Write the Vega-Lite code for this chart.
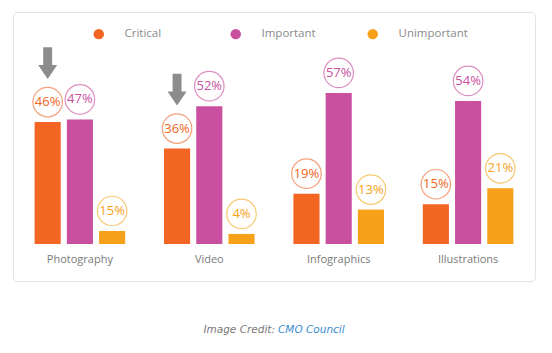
{
  "$schema": "https://vega.github.io/schema/vega-lite/v6.json",
  "width": 522,
  "height": 269,
  "autosize": {"type": "none"},
  "padding": {"left": 13, "top": 12, "right": 17, "bottom": 72},
  "background": "white",
  "config": {
    "view": {"stroke": "#e3e3e3", "cornerRadius": 4, "strokeWidth": 1},
    "font": "Open Sans"
  },
  "data": {
    "values": [
      {"category": "Photography", "series": "Critical", "value": 46, "label": "46%"},
      {"category": "Photography", "series": "Important", "value": 47, "label": "47%"},
      {"category": "Photography", "series": "Unimportant", "value": 4.9, "label": "15%"},
      {"category": "Video", "series": "Critical", "value": 36, "label": "36%"},
      {"category": "Video", "series": "Important", "value": 52, "label": "52%"},
      {"category": "Video", "series": "Unimportant", "value": 3.8, "label": "4%"},
      {"category": "Infographics", "series": "Critical", "value": 19, "label": "19%"},
      {"category": "Infographics", "series": "Important", "value": 57, "label": "57%"},
      {"category": "Infographics", "series": "Unimportant", "value": 13, "label": "13%"},
      {"category": "Illustrations", "series": "Critical", "value": 15, "label": "15%"},
      {"category": "Illustrations", "series": "Important", "value": 54, "label": "54%"},
      {"category": "Illustrations", "series": "Unimportant", "value": 21, "label": "21%"}
    ]
  },
  "layer": [
    {
      "encoding": {
        "x": {
          "field": "category",
          "type": "nominal",
          "sort": ["Photography", "Video", "Infographics", "Illustrations"],
          "scale": {"paddingInner": 0.3, "paddingOuter": 0.167},
          "axis": {
            "title": null,
            "domain": false,
            "ticks": false,
            "labelAngle": 0,
            "labelPadding": 9,
            "offset": -37,
            "labelColor": "#7a7a7a",
            "labelFontSize": 11,
            "labelFont": "Open Sans"
          }
        },
        "xOffset": {
          "field": "series",
          "type": "nominal",
          "sort": ["Critical", "Important", "Unimportant"],
          "scale": {"paddingInner": 0.19, "paddingOuter": 0}
        },
        "y": {
          "field": "value",
          "type": "quantitative",
          "scale": {"domain": [-13.96, 87.55], "nice": false, "zero": false},
          "axis": null
        }
      },
      "layer": [
        {
          "mark": {"type": "bar"},
          "encoding": {
            "color": {
              "field": "series",
              "type": "nominal",
              "scale": {
                "domain": ["Critical", "Important", "Unimportant"],
                "range": ["#f26522", "#c9509f", "#f7a11a"]
              },
              "legend": {
                "orient": "none",
                "legendX": 80,
                "legendY": 16,
                "direction": "horizontal",
                "columns": 3,
                "title": null,
                "symbolType": "circle",
                "symbolSize": 110,
                "symbolStrokeWidth": 0,
                "labelOffset": 20,
                "columnPadding": 36,
                "gridAlign": "all",
                "labelFont": "Open Sans",
                "labelFontSize": 11.5,
                "labelColor": "#8a8a8a"
              }
            }
          }
        },
        {
          "mark": {"type": "point", "shape": "circle", "filled": false, "size": 870, "strokeWidth": 1.2, "yOffset": -20, "opacity": 1},
          "encoding": {
            "stroke": {
              "field": "series",
              "type": "nominal",
              "scale": {
                "domain": ["Critical", "Important", "Unimportant"],
                "range": ["#f5a07a", "#dc8ec3", "#f8c871"]
              },
              "legend": null
            }
          }
        },
        {
          "mark": {"type": "text", "yOffset": -20, "fontSize": 13, "baseline": "middle", "align": "center", "font": "Open Sans"},
          "encoding": {
            "text": {"field": "label"},
            "color": {"field": "series", "type": "nominal"}
          }
        },
        {
          "transform": [
            {"filter": "datum.series === 'Critical' && (datum.category === 'Photography' || datum.category === 'Video')"}
          ],
          "mark": {
            "type": "point",
            "shape": "M-0.47,-1.68L0.47,-1.68L0.47,0.21L1,0.21L0,1.68L-1,0.21L-0.47,0.21Z",
            "size": 361,
            "filled": true,
            "color": "#8c8c8c",
            "strokeWidth": 0,
            "opacity": 1,
            "yOffset": -59
          }
        }
      ]
    },
    {
      "data": {"values": [{"text": "Image Credit:"}]},
      "mark": {"type": "text", "align": "right", "baseline": "middle", "fontStyle": "italic", "font": "DejaVu Sans", "fontSize": 10.5, "color": "#777777", "dx": 1},
      "encoding": {
        "text": {"field": "text"},
        "x": {"datum": 0.5, "type": "quantitative", "scale": {"domain": [0, 1]}, "axis": null},
        "y": {"datum": -32.4, "type": "quantitative", "scale": {"domain": [-13.96, 87.55], "nice": false, "zero": false}, "axis": null}
      }
    },
    {
      "data": {"values": [{"text": "CMO Council"}]},
      "mark": {"type": "text", "align": "left", "baseline": "middle", "fontStyle": "italic", "font": "DejaVu Sans", "fontSize": 10.5, "color": "#3a8ccf", "dx": 4},
      "encoding": {
        "text": {"field": "text"},
        "x": {"datum": 0.5, "type": "quantitative", "scale": {"domain": [0, 1]}, "axis": null},
        "y": {"datum": -32.4, "type": "quantitative", "scale": {"domain": [-13.96, 87.55], "nice": false, "zero": false}, "axis": null}
      }
    }
  ],
  "resolve": {"scale": {"x": "independent"}}
}
